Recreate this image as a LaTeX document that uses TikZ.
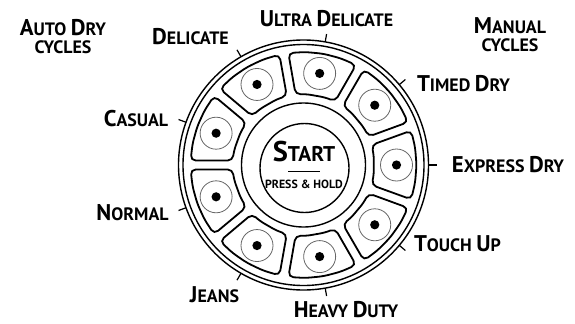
\documentclass[tikz,border=0pt]{standalone}
\usepackage{fontspec}
\setmainfont{PT Sans}
\usetikzlibrary{calc}

% big first letter of the small caps labels
\newcommand\Cap[1]{{\fontsize{22.8}{24}\selectfont #1}}

\tikzset{
    ring/.style={line width=1.4bp},
    button/.style={line width=1.8bp, rounded corners=5bp},
    lamp/.style={circle, draw=black!60, line width=0.8bp, minimum size=32bp, inner sep=0pt},
    tick/.style={line width=1.2bp},
    cyclelabel/.style={font=\bfseries\fontsize{18}{18}\selectfont, inner sep=0pt, align=center},
}

\begin{document}
\begin{tikzpicture}[x=1bp, y=1bp]
        \useasboundingbox (0,0) rectangle (575,323);
        \coordinate (c) at (303.5,158);

        % Outer double ring and inner ring
        \draw[ring] (c) circle (125);
        \draw[ring] (c) circle (120.5);
        \draw[ring] (c) circle (62);

        % Cycle buttons with lamps and ticks
        \foreach \a/\n in {0/express,40/timed,80/ultra,120/delicate,160/casual,
                           200/normal,240/jeans,280/heavy,320/touch} {
            \draw[button] ($(c)+(\a+17.7:113)$) -- ($(c)+(\a+9:113)$) -- ($(c)+(\a:113)$)
                -- ($(c)+(\a-9:113)$) -- ($(c)+(\a-17.7:113)$)
                -- ($(c)+(\a-16.4:71)$) -- ($(c)+(\a-8:71)$) -- ($(c)+(\a+8:71)$)
                -- ($(c)+(\a+16.4:71)$) -- cycle;
            \node[lamp] (lamp-\n) at ($(c)+(\a:93)$) {};
            \fill (lamp-\n.center) circle (4.6);
            \coordinate (t-\n) at ($(c)+(\a:125)$);
            \coordinate (e-\n) at ($(c)+(\a:133)$);
            \draw[tick] (t-\n) -- (e-\n);
        }

        % Start button
        \draw[ring] (304.5,155) circle (44.5);
        \node[inner sep=0pt, font=\bfseries\fontsize{21.4}{22}\selectfont] (start) at (304,171)
            {{\fontsize{28.6}{30}\selectfont S}TART};
        \draw[line width=1bp] (288,152) -- (320,152);
        \node[inner sep=0pt, font=\bfseries\fontsize{11.9}{12}\selectfont] (hold) at (304,139) {PRESS \& HOLD};

        % Labels
        \node[cyclelabel] (autolbl) at (63,286.5) {\Cap{A}UTO \Cap{D}RY\\CYCLES};
        \node[cyclelabel] (manuallbl) at (510,288) {\Cap{M}ANUAL\\CYCLES};
        \node[cyclelabel] (ultralbl) at (326.5,304.5) {\Cap{U}LTRA \Cap{D}ELICATE};
        \node[cyclelabel] (delicatelbl) at (190.5,286) {\Cap{D}ELICATE};
        \node[cyclelabel] (casuallbl) at (136,204) {\Cap{C}ASUAL};
        \node[cyclelabel] (normallbl) at (132.5,110.5) {\Cap{N}ORMAL};
        \node[cyclelabel] (jeanslbl) at (214.5,28) {\Cap{J}EANS};
        \node[cyclelabel] (heavylbl) at (346,13) {\Cap{H}EAVY \Cap{D}UTY};
        \node[cyclelabel] (touchlbl) at (457.5,79) {\Cap{T}OUCH \Cap{U}P};
        \node[cyclelabel] (expresslbl) at (508,158) {\Cap{E}XPRESS \Cap{D}RY};
        \node[cyclelabel] (timedlbl) at (463.5,239.5) {\Cap{T}IMED \Cap{D}RY};
    \end{tikzpicture}
\end{document}
